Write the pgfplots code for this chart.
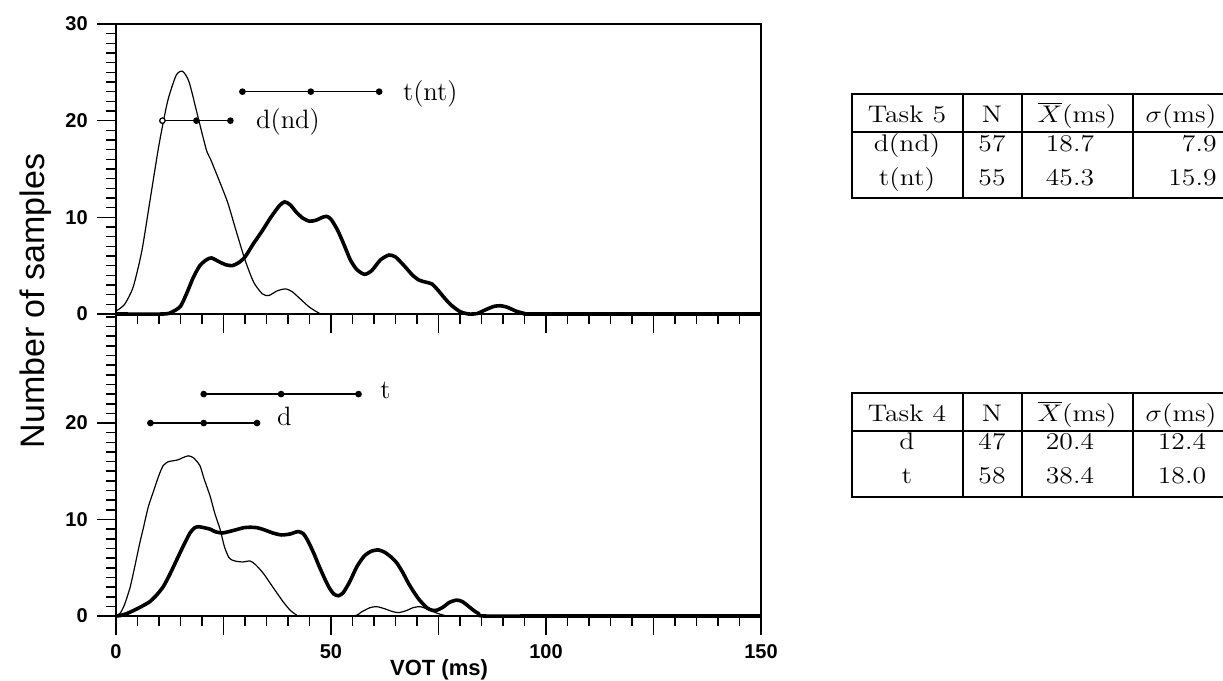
\documentclass[border=0pt]{standalone}
\usepackage{fontspec}
\newfontfamily\hv{Liberation Sans}
\usepackage{pgfplots}
\pgfplotsset{compat=1.18}
\usepackage{pgfplotstable}

\pgfplotstableread{
x y
0 0.3
2 1.0
4 2.8
6 6.5
8 12.0
10 17.5
12 22.0
14 24.7
15.5 25.1
17 24.0
19 20.5
21 17.0
22 16.0
24 13.8
26 11.5
28 8.5
30 5.6
32 3.3
34 2.1
35.5 1.9
37.5 2.4
39.5 2.6
41 2.3
43 1.5
45 0.7
47 0.15
48.5 0
60 0
150 0
}\topd

\pgfplotstableread{
x y
0 0
11 0
13 0.2
15 0.8
16.5 2.2
18 3.8
19.5 5.0
21 5.6
22.2 5.8
24 5.4
25.5 5.1
27 5.0
28.5 5.3
30 5.9
32 7.3
34 8.6
36 10.0
38 11.2
39.2 11.6
40.5 11.3
42 10.5
43.5 9.9
45 9.6
46.5 9.7
48 10.0
49 10.1
50 9.8
51.5 8.7
53 7.2
54.5 5.6
56 4.6
57.8 4.1
59.5 4.5
61.5 5.6
63.5 6.1
65 5.9
67 5.0
69 4.0
70.5 3.5
72 3.3
73.5 3.1
75 2.4
76.5 1.6
78 0.9
80 0.25
82 0
84 0.05
86 0.45
88 0.8
89.5 0.85
91 0.7
93 0.3
95 0.05
96 0
110 0
150 0
}\topt

\pgfplotstableread{
x y
0 0
1 0.3
2 1.2
3.3 3.0
4.5 5.4
5.5 7.5
6.3 9.0
7.5 11.3
8.7 12.9
10 14.6
11 15.6
12.2 16.0
13.5 16.1
14.5 16.2
15.5 16.4
16.8 16.6
18 16.4
19.5 15.6
20.5 14.2
21.9 12.4
23 10.6
24.2 9.0
25.2 7.2
26.2 6.1
27 5.8
28.1 5.66
29.5 5.6
31.2 5.7
32.5 5.3
34.3 4.4
36 3.3
37.4 2.4
39 1.4
40.5 0.6
42 0.1
43 0
55 0
57 0.4
59 0.85
60.6 0.97
62.5 0.75
64 0.5
65.7 0.35
67.5 0.55
69 0.85
70.7 0.97
72.5 0.7
74.6 0.3
76.5 0.05
78 0
90 0
150 0
}\botd

\pgfplotstableread{
x y
0 0
1 0.05
2.5 0.25
4 0.55
6 1.0
7.9 1.5
9.5 2.2
11 3.05
12.5 4.3
14.1 5.8
15.7 7.3
17.2 8.6
18.3 9.15
19.3 9.25
20.5 9.15
21.9 9.0
23 8.75
24.6 8.6
26.3 8.75
28.1 8.96
29.7 9.15
31.2 9.2
32.8 9.15
34.3 8.96
36.5 8.6
38.5 8.4
40.5 8.5
42.3 8.75
43.5 8.55
44.5 7.9
45.9 6.6
47.2 5.2
48.4 4.0
49.5 3.0
50.6 2.3
51.7 2.1
52.8 2.4
54.3 3.5
56 5.1
57.7 6.2
59.3 6.7
61 6.85
62.5 6.6
64 6.1
65.3 5.5
66.7 4.5
68 3.4
69.1 2.6
70.5 1.7
72.3 0.85
73.5 0.6
74.6 0.6
76 0.9
77.5 1.4
79.2 1.65
80.5 1.5
82 1.0
83.1 0.6
84.3 0.25
85.5 0
100 0
150 0
}\bott

\pgfplotsset{
  vot/.style={
    scale only axis,
    width=322.5pt,
    xmin=0, xmax=150,
    ymin=0,
    axis line style={line width=1pt},
    every tick/.style={black, line width=0.8pt},
    tick align=outside,
    major tick length=9.5pt,
    minor tick length=5pt,
    xtick pos=left, ytick pos=left,
    xtick={0,25,...,150},
    minor xtick={5,10,...,145},
    ytick={0,10,20,30},
    /pgf/number format/assume math mode=true,
    tick label style={font=\hv\bfseries\fontsize{10}{12}\selectfont},
    clip=false,
  },
  thinc/.style={black, line width=0.6pt, smooth, tension=0.4},
  thickc/.style={black, line width=1.8pt, smooth, tension=0.4},
  ebar/.style={black, line width=0.7pt, mark=*, mark size=1.3pt, mark options={solid, fill=black}},
}

\begin{document}
\fontsize{13.3}{16}\selectfont
\begin{tikzpicture}
% top panel (Task 5)
\begin{axis}[vot,
  at={(58pt,183.5pt)}, anchor=south west,
  height=145pt, ymax=30,
  minor ytick={1,2,...,29},
  xticklabels={},
]
\addplot[thinc] table {\topd};
\addplot[thickc] table {\topt};
\addplot[ebar] coordinates {(10.8,20) (18.7,20) (26.6,20)};
\addplot[only marks, mark=*, mark size=1.3pt, mark options={fill=white, draw=black, line width=0.5pt}] coordinates {(10.8,20)};
\addplot[ebar] coordinates {(29.4,23) (45.3,23) (61.2,23)};
\node[anchor=base west, inner sep=0pt] at (axis cs:32.5,19.2) {d(nd)};
\node[anchor=base west, inner sep=0pt] at (axis cs:66.7,22.1) {t(nt)};
\end{axis}
% bottom panel (Task 4)
\begin{axis}[vot,
  at={(58pt,32.5pt)}, anchor=south west,
  height=151pt, ymax=31.3,
  ytick={0,10,20},
  minor ytick={1,2,...,31},
  xticklabels={0,,50,,100,,150},
]
\addplot[thinc] table {\botd};
\addplot[thickc] table {\bott};
\addplot[ebar] coordinates {(8.0,20) (20.4,20) (32.8,20)};
\addplot[ebar] coordinates {(20.4,23) (38.4,23) (56.4,23)};
\node[anchor=base west, inner sep=0pt] at (axis cs:37.4,19.7) {d};
\node[anchor=base west, inner sep=0pt] at (axis cs:61.4,22.5) {t};
\end{axis}
% axis titles and tables, in image pixel coordinates
\begin{scope}[x=0.5pt, y=-0.5pt, shift={(0pt,340.5pt)}]
\node[rotate=90, anchor=base, inner sep=0pt, font=\hv\fontsize{17}{20}\selectfont] at (45,301) {Number of samples};
\node[anchor=base, inner sep=0pt, font=\hv\bfseries\fontsize{11}{13}\selectfont] at (439,676) {VOT (ms)};
\begin{scope}[every node/.style={inner sep=0pt, font=\fontsize{12}{14}\selectfont, xscale=1.15}]
% top table
\draw[line width=1.2pt] (852,94) rectangle (1240,198);
\draw[line width=0.8pt] (852,132) -- (1240,132);
\foreach \c in {963,1022,1133} \draw[line width=0.8pt] (\c,94) -- (\c,198);
\node[anchor=base] at (907,123) {Task 5};
\node[anchor=base] at (992,123) {N};
\node[anchor=base] at (1077,123) {$\overline{X}$(ms)};
\node[anchor=base] at (1181,123) {$\sigma$(ms)};
\node[anchor=base] at (907,152) {d(nd)};
\node[anchor=base] at (992,152) {57};
\node[anchor=base] at (1070,152) {18.7};
\node[anchor=base east] at (1217,152) {7.9};
\node[anchor=base] at (907,186) {t(nt)};
\node[anchor=base] at (992,186) {55};
\node[anchor=base] at (1070,186) {45.3};
\node[anchor=base east] at (1217,186) {15.9};
% bottom table
\draw[line width=1.2pt] (852,393) rectangle (1240,497);
\draw[line width=0.8pt] (852,431) -- (1240,431);
\foreach \c in {963,1022,1133} \draw[line width=0.8pt] (\c,393) -- (\c,497);
\node[anchor=base] at (907,422) {Task 4};
\node[anchor=base] at (992,422) {N};
\node[anchor=base] at (1077,422) {$\overline{X}$(ms)};
\node[anchor=base] at (1181,422) {$\sigma$(ms)};
\node[anchor=base] at (907,450) {d};
\node[anchor=base] at (992,450) {47};
\node[anchor=base] at (1070,450) {20.4};
\node[anchor=base] at (1182,450) {12.4};
\node[anchor=base] at (907,484) {t};
\node[anchor=base] at (992,484) {58};
\node[anchor=base] at (1070,484) {38.4};
\node[anchor=base] at (1182,484) {18.0};
\end{scope}
\end{scope}
\pgfresetboundingbox
\useasboundingbox (0pt,0pt) rectangle (611.5pt,340.5pt);
\end{tikzpicture}
\end{document}
